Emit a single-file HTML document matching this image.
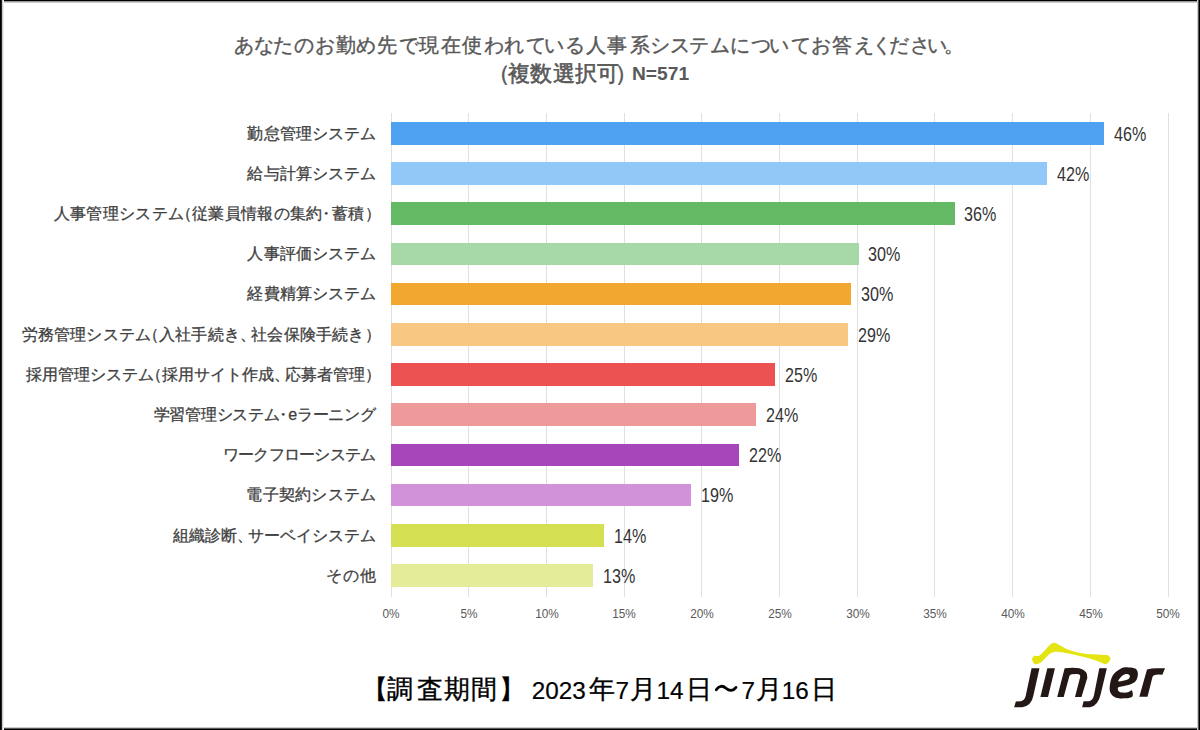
<!DOCTYPE html>
<html><head><meta charset="utf-8">
<style>
html,body{margin:0;padding:0;}
body{width:1200px;height:730px;position:relative;overflow:hidden;background:#fff;font-family:"Liberation Sans",sans-serif;}
.fr{position:absolute;}
.t1{position:absolute;top:31.8px;font-size:20px;line-height:26px;color:#595959;white-space:nowrap;-webkit-text-stroke:0.4px #595959;}
.t2{position:absolute;top:60px;font-size:22px;line-height:28px;color:#595959;white-space:nowrap;-webkit-text-stroke:0.6px #595959;}
.t2n{position:absolute;top:60.5px;font-size:19.2px;line-height:26px;color:#595959;font-weight:bold;white-space:nowrap;}
.g{position:absolute;top:112.5px;height:484px;width:1px;background:#e0e0e0;}
.ax{position:absolute;top:605.5px;width:60px;text-align:center;font-size:13px;line-height:16px;color:#595959;transform:scaleX(0.91);transform-origin:50% 0;}
.b{position:absolute;left:391.3px;height:22.5px;}
.lab{position:absolute;right:824px;font-size:16px;line-height:26px;color:#404040;white-space:nowrap;text-align:right;-webkit-text-stroke:0.3px #404040;}
.n1{margin-left:-8.5px;}
.n2{margin-left:-4.4px;margin-right:-2.6px;}
.n3{margin-right:-4.6px;}
.n4{margin-right:-5px;}
.pct{position:absolute;font-size:20.4px;line-height:26px;color:#333;white-space:nowrap;transform:scaleX(0.79);transform-origin:0 0;}
.fw{position:absolute;top:674px;font-size:26px;line-height:30px;color:#000;white-space:nowrap;-webkit-text-stroke:0.35px #000;}
.fd{position:absolute;top:675.5px;font-size:24.3px;line-height:30px;color:#000;white-space:nowrap;-webkit-text-stroke:0.2px #000;}
</style></head><body>
<div class="fr" style="left:0;top:0;width:1200px;height:3px;background:linear-gradient(#000 0,#000 1px,#999 1px,#999 2px,#ccc 2px,#ccc 3px)"></div>
<div class="fr" style="left:0;top:727px;width:1200px;height:3px;background:linear-gradient(#ccc 0,#ccc 1px,#555 1px,#555 2px,#000 2px,#000 3px)"></div>
<div class="fr" style="left:0;top:0;width:4px;height:730px;background:linear-gradient(90deg,#000 0,#000 1px,#222 1px,#222 2px,#ccc 2px,#ccc 3px,#eee 3px,#eee 4px)"></div>
<div class="fr" style="left:1197px;top:0;width:3px;height:730px;background:linear-gradient(90deg,#ccc 0,#ccc 1px,#555 1px,#555 2px,#000 2px,#000 3px)"></div>
<div class="t1" style="left:233.90px">あ</div>
<div class="t1" style="left:253.55px">な</div>
<div class="t1" style="left:272.90px">た</div>
<div class="t1" style="left:294.15px">の</div>
<div class="t1" style="left:314.85px">お</div>
<div class="t1" style="left:336.35px">勤</div>
<div class="t1" style="left:356.05px">め</div>
<div class="t1" style="left:376.50px">先</div>
<div class="t1" style="left:399.10px">で</div>
<div class="t1" style="left:419.40px">現</div>
<div class="t1" style="left:440.80px">在</div>
<div class="t1" style="left:462.40px">使</div>
<div class="t1" style="left:484.45px">わ</div>
<div class="t1" style="left:504.35px">れ</div>
<div class="t1" style="left:526.05px">て</div>
<div class="t1" style="left:543.70px">い</div>
<div class="t1" style="left:565.30px">る</div>
<div class="t1" style="left:585.50px">人</div>
<div class="t1" style="left:607.25px">事</div>
<div class="t1" style="left:629.50px">系</div>
<div class="t1" style="left:649.50px">シ</div>
<div class="t1" style="left:669.80px">ス</div>
<div class="t1" style="left:689.30px">テ</div>
<div class="t1" style="left:709.55px">ム</div>
<div class="t1" style="left:729.65px">に</div>
<div class="t1" style="left:750.85px">つ</div>
<div class="t1" style="left:769.15px">い</div>
<div class="t1" style="left:790.85px">て</div>
<div class="t1" style="left:811.35px">お</div>
<div class="t1" style="left:832.20px">答</div>
<div class="t1" style="left:853.65px">え</div>
<div class="t1" style="left:871.50px">く</div>
<div class="t1" style="left:889.20px">だ</div>
<div class="t1" style="left:909.95px">さ</div>
<div class="t1" style="left:926.75px">い</div>
<div class="t1" style="left:943.60px">。</div>
<div class="t2" style="left:488px">（</div>
<div class="t2" style="left:507.8px;letter-spacing:0.4px">複数選択可</div>
<div class="t2" style="left:615px">）</div>
<div class="t2n" style="left:632px">N=571</div>
<div class="g" style="left:391px"></div>
<div class="ax" style="left:361.3px">0%</div>
<div class="g" style="left:468px"></div>
<div class="ax" style="left:439.0px">5%</div>
<div class="g" style="left:546px"></div>
<div class="ax" style="left:516.7px">10%</div>
<div class="g" style="left:624px"></div>
<div class="ax" style="left:594.4px">15%</div>
<div class="g" style="left:701px"></div>
<div class="ax" style="left:672.1px">20%</div>
<div class="g" style="left:779px"></div>
<div class="ax" style="left:749.8px">25%</div>
<div class="g" style="left:857px"></div>
<div class="ax" style="left:827.6px">30%</div>
<div class="g" style="left:934px"></div>
<div class="ax" style="left:905.3px">35%</div>
<div class="g" style="left:1012px"></div>
<div class="ax" style="left:983.0px">40%</div>
<div class="g" style="left:1090px"></div>
<div class="ax" style="left:1060.7px">45%</div>
<div class="g" style="left:1168px"></div>
<div class="ax" style="left:1138.4px">50%</div>
<div class="b" style="top:122.0px;width:713.1px;background:#4fa2f2"></div>
<div class="lab" style="top:120.5px;letter-spacing:0.08px;right:823.92px">勤怠管理システム</div>
<div class="pct" style="top:120.5px;left:1113.9px">46%</div>
<div class="b" style="top:162.2px;width:655.7px;background:#90c8f8"></div>
<div class="lab" style="top:160.7px;letter-spacing:0.08px;right:823.92px">給与計算システム</div>
<div class="pct" style="top:160.7px;left:1056.5px">42%</div>
<div class="b" style="top:202.4px;width:563.5px;background:#64b964"></div>
<div class="lab" style="top:200.9px;letter-spacing:0.32px;right:823.68px">人事管理システム<span class="n1">（</span>従業員情報の集約<span class="n2">・</span>蓄積<span class="n3">）</span></div>
<div class="pct" style="top:200.9px;left:964.3px">36%</div>
<div class="b" style="top:242.6px;width:467.5px;background:#a6d8a8"></div>
<div class="lab" style="top:241.1px;letter-spacing:0.08px;right:823.92px">人事評価システム</div>
<div class="pct" style="top:241.1px;left:868.3px">30%</div>
<div class="b" style="top:282.8px;width:459.8px;background:#f2a830"></div>
<div class="lab" style="top:281.3px;letter-spacing:0.08px;right:823.92px">経費精算システム</div>
<div class="pct" style="top:281.3px;left:860.6px">30%</div>
<div class="b" style="top:323.0px;width:456.7px;background:#f8c882"></div>
<div class="lab" style="top:321.5px;letter-spacing:0.2px;right:823.80px">労務管理システム<span class="n1">（</span>入社手続き<span class="n4">、</span>社会保険手続き<span class="n3">）</span></div>
<div class="pct" style="top:321.5px;left:857.5px">29%</div>
<div class="b" style="top:363.2px;width:384.0px;background:#ec5252"></div>
<div class="lab" style="top:361.7px;letter-spacing:0.0px;right:824.00px">採用管理システム<span class="n1">（</span>採用サイト作成<span class="n4">、</span>応募者管理<span class="n3">）</span></div>
<div class="pct" style="top:361.7px;left:784.8px">25%</div>
<div class="b" style="top:403.4px;width:365.1px;background:#ee9a9a"></div>
<div class="lab" style="top:401.9px;letter-spacing:-0.25px;right:824.25px">学習管理システム<span class="n2">・</span>eラーニング</div>
<div class="pct" style="top:401.9px;left:765.9px">24%</div>
<div class="b" style="top:443.6px;width:348.0px;background:#a646ba"></div>
<div class="lab" style="top:442.1px;letter-spacing:-0.78px;right:824.78px">ワークフローシステム</div>
<div class="pct" style="top:442.1px;left:748.8px">22%</div>
<div class="b" style="top:483.8px;width:300.0px;background:#d292da"></div>
<div class="lab" style="top:482.3px;letter-spacing:0.23px;right:823.77px">電子契約システム</div>
<div class="pct" style="top:482.3px;left:700.8px">19%</div>
<div class="b" style="top:524.0px;width:212.7px;background:#d4e052"></div>
<div class="lab" style="top:522.5px;letter-spacing:0.0px;right:824.00px">組織診断<span class="n4">、</span>サーベイシステム</div>
<div class="pct" style="top:522.5px;left:613.5px">14%</div>
<div class="b" style="top:564.2px;width:201.7px;background:#e4ec9a"></div>
<div class="lab" style="top:562.7px;letter-spacing:1.0px;right:823.00px">その他</div>
<div class="pct" style="top:562.7px;left:602.5px">13%</div>
<div class="fw" style="left:361.90px">【</div>
<div class="fw" style="left:387.05px">調</div>
<div class="fw" style="left:416.70px">査</div>
<div class="fw" style="left:444.20px">期</div>
<div class="fw" style="left:471.15px">間</div>
<div class="fw" style="left:498.60px">】</div>
<div class="fd" style="left:531.65px">2023</div>
<div class="fw" style="left:589.10px">年</div>
<div class="fd" style="left:615.60px">7</div>
<div class="fw" style="left:630.30px">月</div>
<div class="fd" style="left:656.40px">14</div>
<div class="fw" style="left:685.95px">日</div>
<div class="fd" style="left:741.60px">7</div>
<div class="fw" style="left:756.00px">月</div>
<div class="fd" style="left:781.75px">16</div>
<div class="fw" style="left:811.30px">日</div>
<svg style="position:absolute;left:710px;top:680px" width="32" height="16"><path d="M6.3 9.8 C9 5.6 12.6 5.2 16 8.2 C19.5 11.2 23.2 11.2 26 7.4" fill="none" stroke="#000" stroke-width="2.8" stroke-linecap="round"/></svg>
<svg style="position:absolute;left:1010px;top:635px" width="160" height="80" viewBox="0 0 1200 600">
<path fill="#e4e412" d="M225.0 151.9 C244.7 138.3 279.4 91.4 298.1 75.9 C316.9 60.4 324.4 58.6 337.5 59.1 C350.6 59.6 358.1 69.4 376.9 78.8 C395.6 88.2 419.1 105.0 450.0 115.3 C480.9 125.6 520.3 135.0 562.5 140.6 C604.7 146.2 675.0 147.2 703.1 149.1 C731.2 151.0 722.8 147.7 731.3 151.9 C739.8 156.1 752.9 165.0 753.8 174.4 C754.7 183.8 744.4 201.1 736.9 208.1 C729.4 215.1 719.1 217.5 708.8 216.6 C698.5 215.7 694.7 209.5 675.0 202.5 C655.3 195.5 628.1 184.7 590.6 174.4 C553.1 164.1 487.5 148.6 450.0 140.6 C412.5 132.6 389.0 127.5 365.6 126.6 C342.2 125.7 325.3 128.0 309.4 135.0 C293.5 142.0 284.1 156.2 270.0 168.8 C255.9 181.5 239.1 202.9 225.0 210.9 C210.9 218.9 195.4 220.8 185.6 216.6 C175.8 212.4 166.8 195.4 165.9 185.6 C165.0 175.8 170.2 163.1 180.0 157.5 C189.8 151.9 205.3 165.5 225.0 151.9 Z"/>
<g fill="#231815">
<path d="M161.8 249 L221 249 L175 455 Q162 528 92 542 L31 542 L44 498 L82 496 Q110 490 118 455 Z"/><path d="M280 249 L337 249 L285 465 L228 465 Z"/><path d="M410 249 Q480 240 520 250 Q585 268 580 321 L536 465 L487.5 465 L526 316 Q532 292 498 293 L462 294 Q448 298 446 306 L402.7 465 L354 465 Z"/><path d="M669.9 249 L726.4 249 L680 444 Q662 530 600 542 L541 542 L552 496 L593 496 Q620 490 629 455 Z"/>
<path fill-rule="evenodd" d="M914.0 415.6 C919.5 420.7 925.5 450.9 918.0 460.8 C910.5 470.7 889.2 473.5 868.7 475.2 C848.2 476.9 813.9 477.9 794.7 471.0 C775.5 464.1 761.1 450.4 753.6 434.0 C746.1 417.6 746.1 395.1 749.5 372.5 C752.9 349.9 759.8 319.1 774.2 298.5 C788.6 277.9 816.7 258.4 835.8 249.2 C854.9 239.9 871.2 242.3 889.0 243.0 C906.8 243.7 931.0 245.4 942.7 253.3 C954.4 261.2 958.3 275.9 959.0 290.3 C959.7 304.7 955.0 326.6 946.8 339.6 C938.6 352.6 926.3 360.8 909.8 368.3 C893.3 375.8 864.5 380.7 848.0 384.8 C831.5 388.9 816.5 386.8 811.0 393.0 C805.5 399.2 809.5 415.3 815.0 421.8 C820.5 428.3 832.3 430.6 844.0 432.0 C855.7 433.4 873.3 432.7 885.0 430.0 C896.7 427.3 908.5 410.5 914.0 415.6 Z M813.2 347.8 C806.4 343.7 826.5 320.1 835.8 310.8 C845.0 301.6 859.1 294.4 868.7 292.3 C878.3 290.2 888.5 294.1 893.3 298.5 C898.1 302.9 900.2 312.8 897.5 319.0 C894.8 325.2 890.9 330.7 876.9 335.5 C862.9 340.3 820.1 351.9 813.2 347.8 Z"/>
<path d="M1027.4 259.4 Q1060 249 1100 249 L1163 249 L1142.5 298.5 Q1100 295 1085 300 Q1072 305 1068.5 315 L1031.5 463 L970 463 Z"/>
</g>
</svg>
</body></html>
